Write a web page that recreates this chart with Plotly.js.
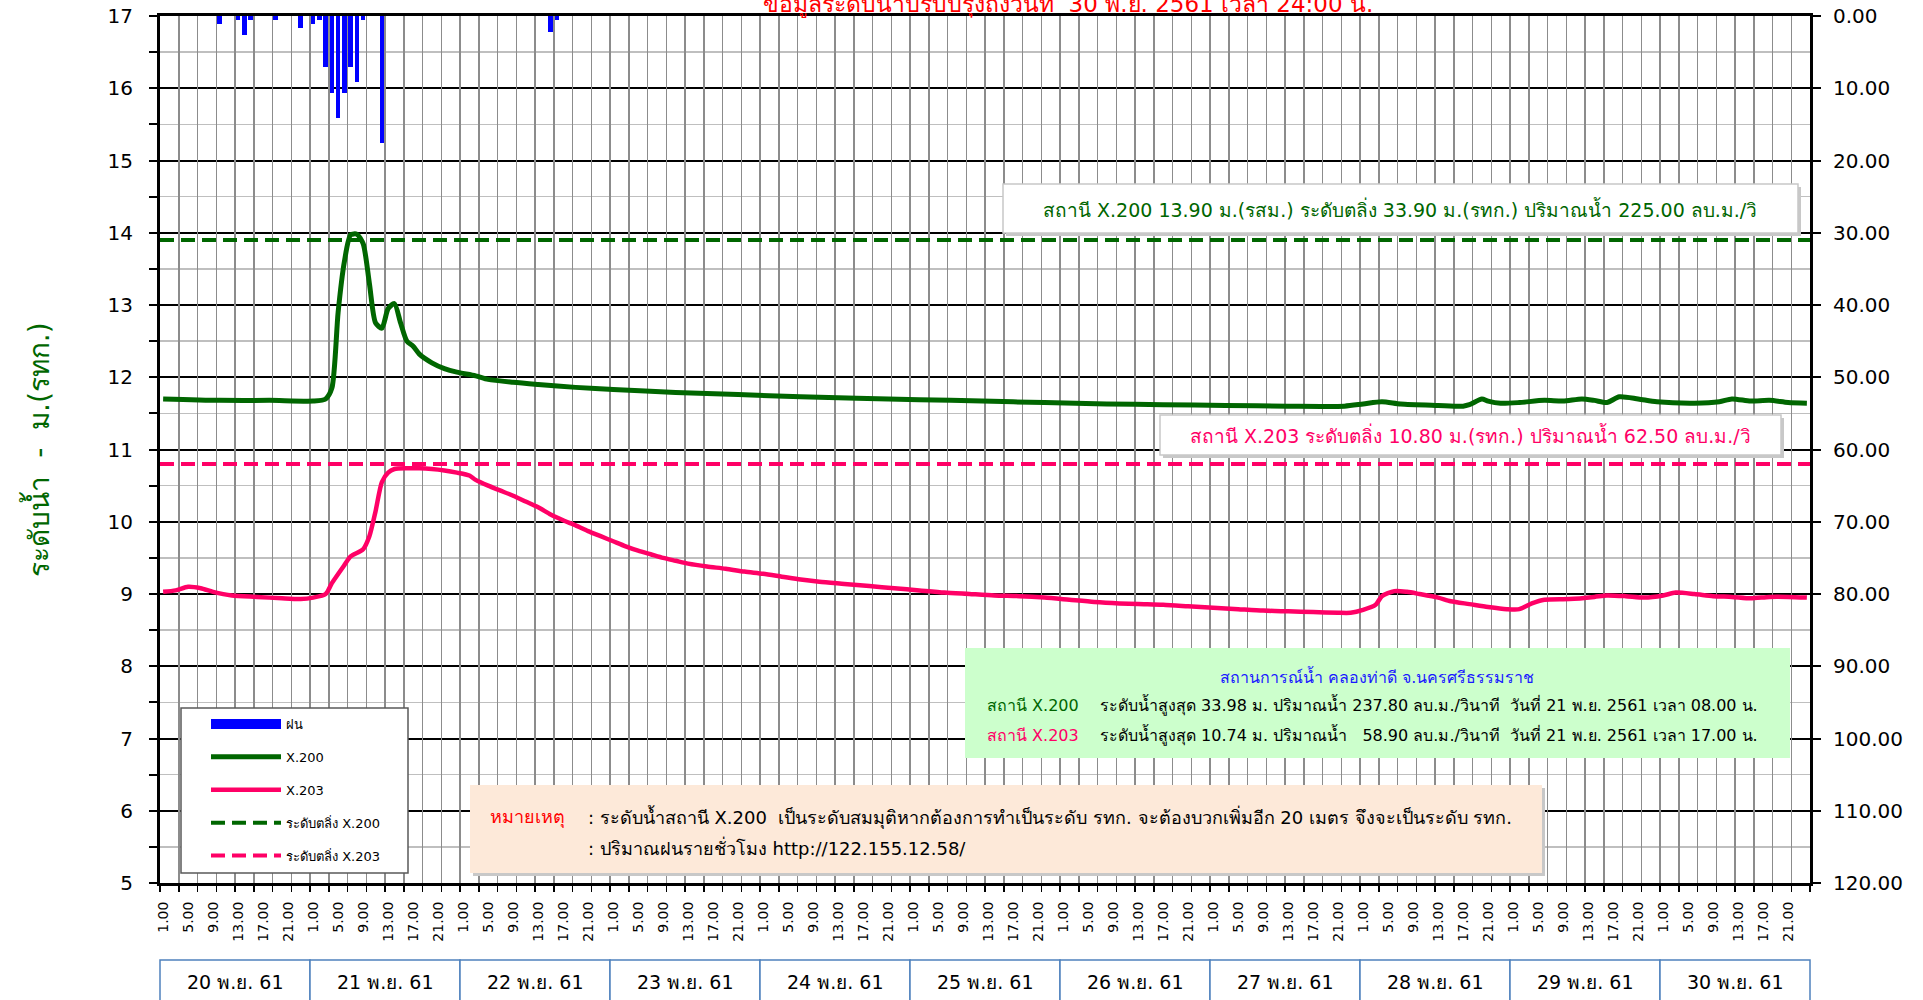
<!DOCTYPE html>
<html>
<head>
<meta charset="utf-8">
<script src="https://cdn.plot.ly/plotly-3.0.1.min.js"></script>
<style>html,body{margin:0;padding:0;background:#fff;}#chart{width:1923px;height:1000px;}</style>
</head>
<body>
<div id="chart"></div>
<script>
// ---------------- DATA ----------------
const dayLabels = ['20 พ.ย. 61','21 พ.ย. 61','22 พ.ย. 61','23 พ.ย. 61','24 พ.ย. 61','25 พ.ย. 61','26 พ.ย. 61','27 พ.ย. 61','28 พ.ย. 61','29 พ.ย. 61','30 พ.ย. 61'];
const hourLabels = ['1.00','5.00','9.00','13.00','17.00','21.00'];
const hoursPerDay = 24;
const labelStepHours = 4;
const gridStepHours = 3;

// hour index (0 = 20 พ.ย. 1.00) and rainfall mm
const rainHour = [9, 12, 13, 14, 18, 22, 24, 25, 26, 27, 28, 29, 30, 31, 32, 35, 62, 63];
const rainMM   = [1.1, 0.6, 2.6, 0.6, 0.6, 1.7, 1.1, 0.6, 7.1, 10.6, 14.1, 10.6, 7.1, 9.1, 0.6, 17.6, 2.2, 0.6];

// X.200 water level (m) read at hour index
const x200Hour  = [0, 9, 17, 24, 26, 27, 28, 29, 30, 31, 32, 33, 34, 35, 36, 37, 38, 39, 40, 41, 43, 45, 47, 50, 52, 56, 60, 66, 72, 82, 92, 102, 111, 121, 131, 141, 151, 160, 170, 180, 189, 192, 195, 198, 204, 208, 209, 211, 212, 214, 217, 221, 224, 227, 229, 231, 233, 236, 239, 245, 249, 251, 254, 257, 260, 263];
const x200Level = [11.70, 11.68, 11.68, 11.67, 11.70, 11.85, 12.90, 13.60, 13.97, 13.98, 13.85, 13.30, 12.75, 12.68, 12.95, 13.02, 12.75, 12.50, 12.43, 12.32, 12.20, 12.12, 12.07, 12.02, 11.97, 11.93, 11.90, 11.86, 11.83, 11.79, 11.76, 11.73, 11.71, 11.69, 11.67, 11.65, 11.63, 11.62, 11.61, 11.60, 11.60, 11.63, 11.66, 11.63, 11.61, 11.60, 11.62, 11.70, 11.67, 11.64, 11.65, 11.68, 11.67, 11.70, 11.68, 11.65, 11.73, 11.70, 11.66, 11.64, 11.66, 11.70, 11.67, 11.68, 11.65, 11.64];

// X.203 water level (m) read at hour index
const x203Hour  = [0, 2, 4, 6, 8, 11, 15, 19, 22, 24, 26, 27, 29, 30, 32, 33, 34, 35, 36, 37, 39, 41, 43, 45, 47, 49, 50, 52, 54, 56, 58, 60, 62, 64, 66, 68, 70, 72, 74, 76, 78, 80, 82, 84, 87, 90, 93, 96, 99, 102, 105, 109, 113, 117, 121, 125, 129, 133, 137, 141, 145, 149, 153, 156, 160, 164, 168, 172, 176, 180, 184, 188, 190, 192, 194, 195, 197, 199, 201, 204, 206, 209, 212, 215, 217, 219, 221, 225, 229, 231, 234, 237, 240, 242, 245, 248, 251, 254, 257, 260, 263];
const x203Level = [9.03, 9.05, 9.10, 9.08, 9.03, 8.98, 8.96, 8.94, 8.93, 8.95, 9.00, 9.15, 9.40, 9.52, 9.62, 9.80, 10.15, 10.55, 10.68, 10.73, 10.74, 10.74, 10.73, 10.71, 10.68, 10.64, 10.58, 10.50, 10.43, 10.36, 10.28, 10.20, 10.10, 10.02, 9.95, 9.87, 9.80, 9.73, 9.66, 9.60, 9.55, 9.50, 9.46, 9.42, 9.38, 9.35, 9.31, 9.28, 9.24, 9.20, 9.17, 9.14, 9.11, 9.08, 9.05, 9.02, 9.00, 8.98, 8.97, 8.95, 8.92, 8.89, 8.87, 8.86, 8.85, 8.83, 8.81, 8.79, 8.77, 8.76, 8.75, 8.74, 8.74, 8.78, 8.85, 8.97, 9.04, 9.03, 9.00, 8.95, 8.90, 8.86, 8.82, 8.79, 8.79, 8.87, 8.92, 8.93, 8.96, 8.98, 8.97, 8.95, 8.98, 9.02, 9.00, 8.97, 8.96, 8.94, 8.96, 8.96, 8.95];

const bankX200 = 13.90;
const bankX203 = 10.80;

const leftTicks  = [5, 17];
const rightTicks = [0, 10, 20, 30, 40, 50, 60, 70, 80, 90, 100, 110, 120];

// ---------------- GEOMETRY HELPERS ----------------
const W = 1923, H = 1000;
const L = 160, R = 1810, T = 16, B = 883;
const px = p => (p - L) / (R - L);
const py = p => (B - p) / (B - T);
const totalHours = dayLabels.length * hoursPerDay;
const xMin = -0.5, xMax = totalHours - 0.5;
const xp = v => (v - xMin) / (xMax - xMin);

const tickVals = [], tickText = [];
dayLabels.forEach((d, di) => hourLabels.forEach((h, hi) => {
  tickVals.push(di * hoursPerDay + hi * labelStepHours);
  tickText.push(h);
}));
const gridVals = [];
for (let v = xMin; v <= xMax + 1e-9; v += gridStepHours) gridVals.push(v);

const FONT = "Tahoma, 'DejaVu Sans', 'Noto Sans', sans-serif";
const GREEN = '#006600', PINK = '#ff0066';

// ---------------- TRACES ----------------
const traces = [
  {type:'scatter', mode:'lines', name:'ฝน', x:[null], y:[null],
   line:{color:'#0000ff', width:10}, legendgroup:'a', hoverinfo:'skip'},
  {type:'bar', name:'ฝน', x: rainHour, y: rainMM, xaxis:'x', yaxis:'y2', width:0.7,
   marker:{color:'#0000ff', line:{width:0}}, legendgroup:'a', showlegend:false, hoverinfo:'x+y'},
  {type:'scatter', mode:'lines', name:'X.200', x: x200Hour, y: x200Level,
   line:{color:GREEN, width:5, shape:'spline', smoothing:0.7}, legendgroup:'b'},
  {type:'scatter', mode:'lines', name:'X.203', x: x203Hour, y: x203Level,
   line:{color:PINK, width:4.5, shape:'spline', smoothing:0.7}, legendgroup:'c'},
  {type:'scatter', mode:'lines', name:'ระดับตลิ่ง X.200', x:[xMin, xMax], y:[bankX200, bankX200],
   line:{color:GREEN, width:4, dash:'14px,7px'}, legendgroup:'d'},
  {type:'scatter', mode:'lines', name:'ระดับตลิ่ง X.203', x:[xMin, xMax], y:[bankX203, bankX203],
   line:{color:PINK, width:4, dash:'14px,7px'}, legendgroup:'e'},
  {type:'scatter', mode:'lines', x:[xMin, xMax], y:[null, null], xaxis:'x2', yaxis:'y',
   showlegend:false, hoverinfo:'skip'}
];

// ---------------- SHAPES & ANNOTATIONS ----------------
const shapes = [];
const annotations = [];
function box(x0, y0, x1, y1, fill, line, shadow) {
  if (shadow) shapes.push({type:'rect', xref:'paper', yref:'paper', layer:'above',
    x0:px(x0+3), x1:px(x1+3), y0:py(y0+3), y1:py(y1+3), fillcolor:'#c8c8c8', line:{width:0}});
  shapes.push({type:'rect', xref:'paper', yref:'paper', layer:'above',
    x0:px(x0), x1:px(x1), y0:py(y0), y1:py(y1), fillcolor:fill,
    line: line ? {color:line, width:1.5} : {width:0}});
}
function txt(x, y, text, opts) {
  annotations.push(Object.assign({xref:'paper', yref:'paper', x:px(x), y:py(y), text:text,
    showarrow:false, xanchor:'center', yanchor:'middle',
    font:{family:FONT, size:16, color:'#000'}}, opts || {}));
}

// title (partly cut off at top, as in the source)
txt(1068, 3, 'ข้อมูลระดับน้ำปรับปรุงถึงวันที่  30 พ.ย. 2561 เวลา 24:00 น.', {font:{family:FONT, size:23, color:'#ff0000'}});

// legend frame
box(181, 708, 408, 873, '#ffffff', '#595959', false);

// bank info boxes
box(1003, 184, 1798, 233, '#ffffff', '#c8c8c8', true);
txt(1400, 209, 'สถานี X.200 13.90 ม.(รสม.) ระดับตลิ่ง 33.90 ม.(รทก.) ปริมาณน้ำ 225.00 ลบ.ม./วิ', {font:{family:FONT, size:19, color:GREEN}});
box(1160, 415, 1781, 455, '#ffffff', '#c8c8c8', true);
txt(1470, 435, 'สถานี X.203 ระดับตลิ่ง 10.80 ม.(รทก.) ปริมาณน้ำ 62.50 ลบ.ม./วิ', {font:{family:FONT, size:19, color:PINK}});

// situation box
box(965, 648, 1790, 758, '#ccffcc', null, false);
txt(1377, 676, 'สถานการณ์น้ำ คลองท่าดี จ.นครศรีธรรมราช', {font:{family:FONT, size:16, color:'#1a1aff'}});
txt(985, 705, 'สถานี X.200', {xanchor:'left', font:{family:FONT, size:16, color:GREEN}});
txt(1098, 705, 'ระดับน้ำสูงสุด 33.98 ม. ปริมาณน้ำ 237.80 ลบ.ม./วินาที  วันที่ 21 พ.ย. 2561 เวลา 08.00 น.', {xanchor:'left'});
txt(985, 735, 'สถานี X.203', {xanchor:'left', font:{family:FONT, size:16, color:PINK}});
txt(1098, 735, 'ระดับน้ำสูงสุด 10.74 ม. ปริมาณน้ำ   58.90 ลบ.ม./วินาที  วันที่ 21 พ.ย. 2561 เวลา 17.00 น.', {xanchor:'left'});

// note box
box(470, 785, 1542, 873, '#fde9d9', null, true);
txt(488, 817, 'หมายเหตุ', {xanchor:'left', font:{family:FONT, size:18, color:'#ff0000'}});
txt(586, 817, ': ระดับน้ำสถานี X.200  เป็นระดับสมมุติหากต้องการทำเป็นระดับ รทก. จะต้องบวกเพิ่มอีก 20 เมตร จึงจะเป็นระดับ รทก.', {xanchor:'left', font:{family:FONT, size:18, color:'#000'}});
txt(586, 847, ': ปริมาณฝนรายชั่วโมง http://122.155.12.58/', {xanchor:'left', font:{family:FONT, size:18, color:'#000'}});

// day boxes under the axis
dayLabels.forEach((d, i) => {
  const a = i * hoursPerDay + xMin, b = (i + 1) * hoursPerDay + xMin;
  shapes.push({type:'rect', xref:'paper', yref:'paper', layer:'above',
    x0:xp(a), x1:xp(b), y0:py(1010), y1:py(960), fillcolor:'#ffffff',
    line:{color:'#4f81bd', width:1.5}});
  annotations.push({xref:'paper', yref:'paper', x:xp((a + b) / 2), y:py(982), text:d,
    showarrow:false, xanchor:'center', yanchor:'middle', font:{family:FONT, size:19, color:'#000'}});
});

const leftVals = [];
for (let v = leftTicks[0]; v <= leftTicks[1]; v++) leftVals.push(v);

const layout = {
  width: W, height: H,
  margin: {l: L, r: W - R, t: T, b: H - B, pad: 0},
  paper_bgcolor: '#ffffff', plot_bgcolor: '#ffffff',
  font: {family: FONT, color: '#000'},
  showlegend: true,
  legend: {x: px(206), y: py(709), xanchor: 'left', yanchor: 'top',
    bgcolor: 'rgba(0,0,0,0)', borderwidth: 0,
    font: {family: FONT, size: 13, color: '#000'}, itemwidth: 70,
    tracegroupgap: 13, traceorder: 'grouped'},
  xaxis: {range: [xMin, xMax], tickmode: 'array', tickvals: tickVals, ticktext: tickText,
    tickangle: -90, tickfont: {family: "'DejaVu Sans', sans-serif", size: 14, color: '#000'},
    ticks: '', showgrid: false, zeroline: false, showline: true, linecolor: '#000',
    linewidth: 3, mirror: true, ticklabelstandoff: 10, fixedrange: true},
  xaxis2: {overlaying: 'x', anchor: 'y', side: 'bottom', range: [xMin, xMax],
    tickmode: 'array', tickvals: gridVals, showticklabels: false, ticks: 'outside',
    ticklen: 8, tickwidth: 1.5, tickcolor: '#000', showgrid: true, gridcolor: '#8c8c8c',
    gridwidth: 1.5, zeroline: false, showline: false},
  yaxis: {range: [leftTicks[0], leftTicks[1]], tickmode: 'array', tickvals: leftVals,
    ticks: 'outside', ticklen: 8, tickwidth: 2, tickcolor: '#000',
    showgrid: true, gridcolor: '#000', gridwidth: 2, zeroline: false,
    minor: {dtick: 0.5, tick0: 5, ticks: 'outside', ticklen: 8, tickwidth: 2, tickcolor: '#000',
      showgrid: true, gridcolor: '#bfbfbf', gridwidth: 1.5},
    showline: true, linecolor: '#000', linewidth: 3,
    tickfont: {family: "'DejaVu Sans', sans-serif", size: 20, color: '#000'},
    ticklabelstandoff: 12,
    title: {text: 'ระดับน้ำ  -  ม.(รทก.)', font: {family: FONT, size: 28, color: GREEN}, standoff: 50}},
  yaxis2: {overlaying: 'y', side: 'right', anchor: 'x', range: [rightTicks[rightTicks.length - 1], rightTicks[0]],
    tickmode: 'array', tickvals: rightTicks, tickformat: '.2f',
    ticks: 'outside', ticklen: 8, tickwidth: 2, tickcolor: '#000',
    showgrid: false, zeroline: false, showline: true, linecolor: '#000', linewidth: 3,
    tickfont: {family: "'DejaVu Sans', sans-serif", size: 20, color: '#000'},
    ticklabelstandoff: 8},
  bargap: 0,
  shapes: shapes,
  annotations: annotations
};

Plotly.newPlot('chart', traces, layout, {displayModeBar: false, staticPlot: true});
</script>
</body>
</html>
